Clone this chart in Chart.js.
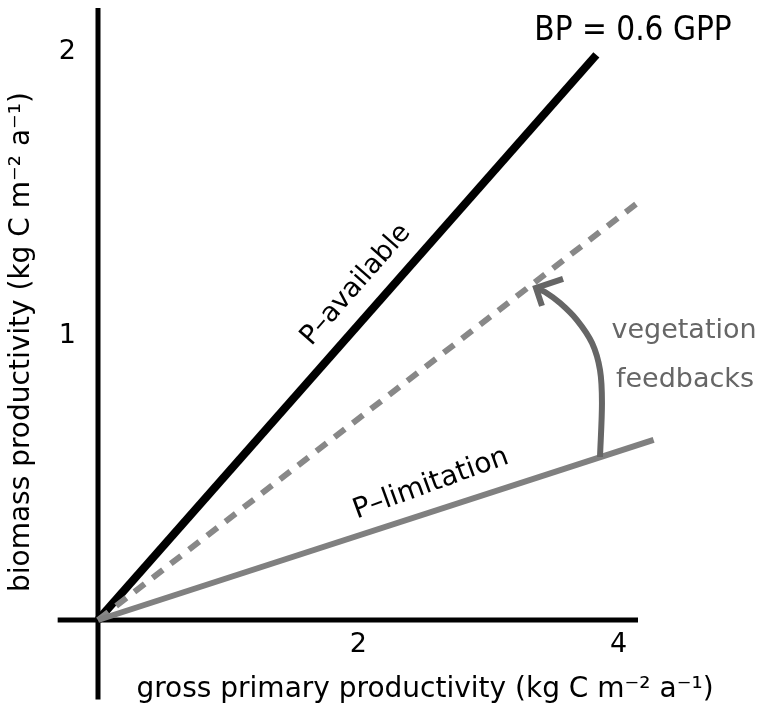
<!DOCTYPE html>
<html>
<head>
<meta charset="utf-8">
<script src="https://cdn.jsdelivr.net/npm/chart.js@4"></script>
<style>
  html, body { margin: 0; padding: 0; background: #fff; }
  canvas { display: block; }
</style>
</head>
<body>
<canvas id="c" width="760" height="722"></canvas>
<script>
// values (GPP on x, BP on y, kg C m-2 a-1)
const xTicks = [2, 4];
const yTicks = [1, 2];

const availableX = [0, 3.83];
const availableY = [0, 1.99];

const feedbackX = [0, 4.15];
const feedbackY = [0, 1.47];

const limitX = [0, 4.27];
const limitY = [0, 0.634];

// curved "vegetation feedbacks" arrow, points along its path
const arcX = [3.858, 3.873, 3.858, 3.797, 3.681, 3.551, 3.435, 3.366];
const arcY = [0.574, 0.764, 0.880, 0.975, 1.056, 1.116, 1.155, 1.169];
const headX = [3.574, 3.366, 3.412];
const headY = [1.201, 1.169, 1.106];

// axis lines cross at the origin and overshoot a little
const axisHX = [-0.31, 4.15];
const axisHY = [0, 0];
const axisVX = [0, 0];
const axisVY = [-0.28, 2.155];

const FONT = "'DejaVu Sans', sans-serif";
const FONT_C = "'DejaVu Sans Condensed', 'DejaVu Sans', sans-serif";

function pts(xs, ys) {
  return xs.map((x, i) => ({ x: x, y: ys[i] }));
}

function line(xs, ys, color, width, extra) {
  return Object.assign({
    data: pts(xs, ys),
    borderColor: color,
    borderWidth: width,
    pointRadius: 0,
    fill: false,
    clip: false,
    tension: 0
  }, extra || {});
}

const labels = {
  id: 'labels',
  afterDraw(chart) {
    const ctx = chart.ctx;
    const txt = (s, x, y, font, color, rot) => {
      ctx.save();
      ctx.translate(x, y);
      if (rot) ctx.rotate(rot * Math.PI / 180);
      ctx.font = font;
      ctx.fillStyle = color;
      ctx.textAlign = 'center';
      ctx.textBaseline = 'middle';
      ctx.fillText(s, 0, 0);
      ctx.restore();
    };
    txt('BP = 0.6 GPP', 633, 31, '33px ' + FONT_C, '#000');
    txt('P\u2013available', 356, 285, '27px ' + FONT, '#000', -48.7);
    txt('P\u2013limitation', 431, 484, '28px ' + FONT, '#000', -20);
    txt('vegetation', 684, 331, '27px ' + FONT, '#666');
    txt('feedbacks', 685, 380, '27px ' + FONT, '#666');
    txt('gross primary productivity (kg C m\u207B\u00B2 a\u207B\u00B9)', 425, 690, '28px ' + FONT, '#000');
    txt('biomass productivity (kg C m\u207B\u00B2 a\u207B\u00B9)', 22, 342, '28px ' + FONT, '#000', -90);
  }
};

function noPad(s) {
  s.paddingTop = 0;
  s.paddingBottom = 0;
  s.paddingLeft = 0;
  s.paddingRight = 0;
}

new Chart(document.getElementById('c'), {
  type: 'line',
  data: {
    datasets: [
      line(headX, headY, '#666', 6),
      line(arcX, arcY, '#666', 6, { tension: 0.3 }),
      line(limitX, limitY, '#808080', 6),
      line(feedbackX, feedbackY, '#888', 6, { borderDash: [13, 10] }),
      line(availableX, availableY, '#000', 8),
      line(axisHX, axisHY, '#000', 5),
      line(axisVX, axisVY, '#000', 5)
    ]
  },
  options: {
    responsive: false,
    animation: false,
    layout: { padding: { left: 0, top: 8, right: 122, bottom: 0 } },
    plugins: { legend: { display: false }, tooltip: { enabled: false } },
    scales: {
      x: {
        type: 'linear',
        min: 0,
        max: 4.15,
        grid: { display: false, drawTicks: false },
        border: { display: false },
        ticks: { font: { size: 27, family: FONT }, color: '#000', padding: 9 },
        afterBuildTicks: s => { s.ticks = xTicks.map(v => ({ value: v })); },
        afterFit: s => { s.height = 102; noPad(s); }
      },
      y: {
        type: 'linear',
        min: 0,
        max: 2.155,
        grid: { display: false, drawTicks: false },
        border: { display: false },
        ticks: { font: { size: 27, family: FONT }, color: '#000', padding: 22 },
        afterBuildTicks: s => { s.ticks = yTicks.map(v => ({ value: v })); },
        afterFit: s => { s.width = 98; noPad(s); }
      }
    }
  },
  plugins: [labels]
});
</script>
</body>
</html>
